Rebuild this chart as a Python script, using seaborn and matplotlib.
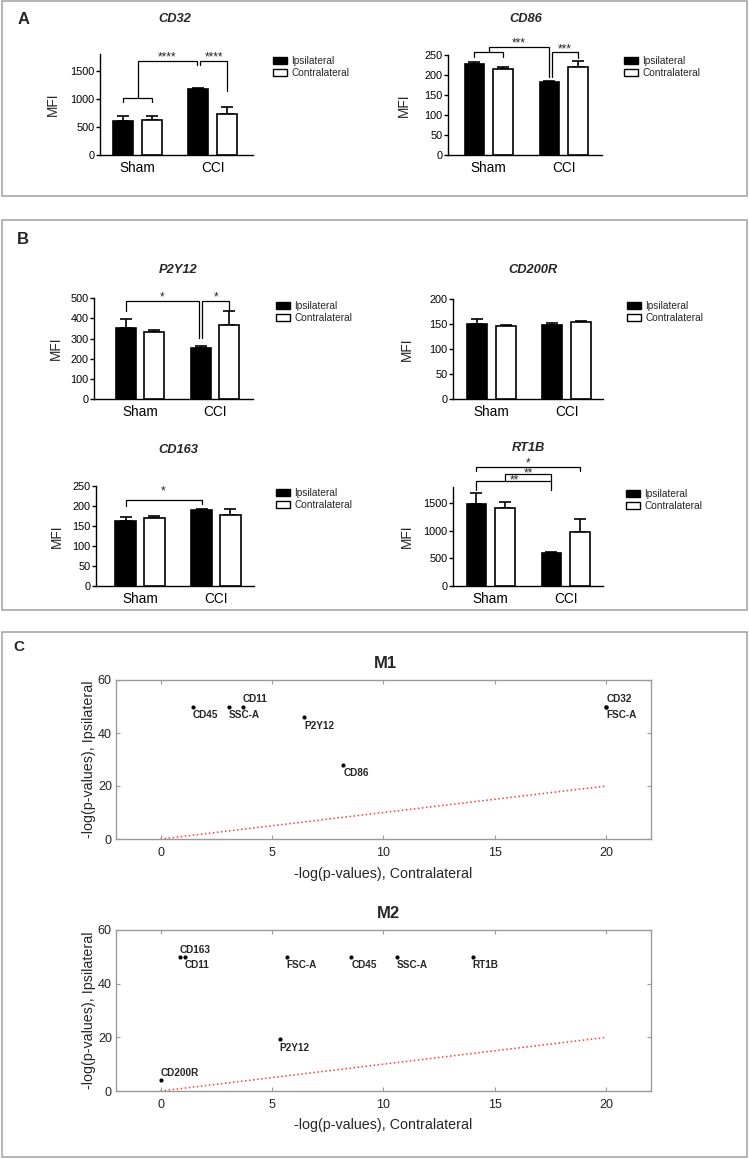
import numpy as np
import pandas as pd
import matplotlib
matplotlib.use("Agg")
import matplotlib.pyplot as plt
from matplotlib.patches import Patch, Rectangle
import seaborn as sns

# ------------------------------------------------------------------ data
groups = ["Sham", "CCI"]
sides = ["Ipsilateral", "Contralateral"]
# each list: Sham-Ipsi, Sham-Contra, CCI-Ipsi, CCI-Contra
cd32_mean = [607, 625, 1175, 740]
cd32_sem = [83, 75, 23, 123]
cd86_mean = [227, 216, 182, 221]
cd86_sem = [5, 4, 2, 13]
p2y12_mean = [352, 332, 255, 367]
p2y12_sem = [44, 10, 9, 69]
cd200r_mean = [149, 146, 147.5, 154]
cd200r_sem = [10, 2, 4.5, 1.5]
cd163_mean = [162.5, 171, 190, 177]
cd163_sem = [10.5, 4, 2, 15]
rt1b_mean = [1480, 1413, 592, 973]
rt1b_sem = [205, 109, 18, 241]

cd32_yticks = [0, 500, 1000, 1500]
cd86_yticks = [0, 50, 100, 150, 200, 250]
p2y12_yticks = [0, 100, 200, 300, 400, 500]
cd200r_yticks = [0, 50, 100, 150, 200]
cd163_yticks = [0, 50, 100, 150, 200, 250]
rt1b_yticks = [0, 500, 1000, 1500]

# significance brackets: (x1, x2, y_top, y_left_end, y_right_end, label, y_label)
cd32_sig = [(-0.19, 0.19, 1023, 952, 952, "", 0),
            (0.0, 0.79, 1679, 1023, 1607, "****", 1750),
            (0.83, 1.19, 1679, 1607, 1143, "****", 1750)]
cd86_sig = [(-0.19, 0.19, 257, 245, 245, "", 0),
            (0.0, 0.81, 269, 257, 196, "***", 279),
            (0.84, 1.19, 257, 196, 242, "***", 265)]
p2y12_sig = [(-0.19, 0.79, 487, 438, 302, "*", 503),
             (0.83, 1.19, 487, 302, 443, "*", 503)]
cd200r_sig = []
cd163_sig = [(-0.19, 0.81, 215, 200, 204, "*", 236)]
rt1b_sig = [(-0.19, 1.19, 2161, 2083, 2083, "*", 2228),
            (0.19, 0.81, 2029, 1907, 1907, "**", 2045),
            (-0.19, 0.81, 1902, 1739, 1739, "**", 1915)]

# panel C
m1_names = ["CD45", "SSC-A", "CD11", "P2Y12", "CD86", "CD32", "FSC-A"]
m1_contra = [1.45, 3.05, 3.7, 6.45, 8.2, 20.0, 20.0]
m1_ipsi = [50, 50, 50, 46, 28, 50, 50]
m1_side = ["below", "below", "above", "below", "below", "above", "below"]

m2_names = ["CD163", "CD11", "FSC-A", "CD45", "SSC-A", "RT1B", "P2Y12", "CD200R"]
m2_contra = [0.85, 1.1, 5.65, 8.55, 10.6, 14.0, 5.35, 0.0]
m2_ipsi = [50, 50, 50, 50, 50, 50, 19.3, 4.1]
m2_side = ["above", "below", "below", "below", "below", "below", "below", "above"]

diag_x = [0, 20]
diag_y = [0, 20]
scatter_xticks = [0, 5, 10, 15, 20]
scatter_yticks = [0, 20, 40, 60]

# ------------------------------------------------------------------ style
sns.set_style("ticks")
plt.rcParams["font.family"] = ["Liberation Sans", "DejaVu Sans"]

W, H = 749, 1159
fig = plt.figure(figsize=(W / 100, H / 100), dpi=100)


def add_ax(l, t, r, b):
    return fig.add_axes([l / W, 1 - b / H, (r - l) / W, (b - t) / H])


def ftext(x, y, s, **kw):
    fig.text(x / W, 1 - y / H, s, **kw)


# panel frames
for (t, b) in [(1, 196), (220, 610), (632, 1157)]:
    fig.add_artist(Rectangle((1.5 / W, 1 - b / H), (746.5 - 1.5) / W, (b - t) / H,
                             transform=fig.transFigure, fill=False,
                             edgecolor="#a0a0a0", linewidth=1.1))

ftext(24, 20, "A", fontsize=12, fontweight="bold", ha="center", va="center")
ftext(23, 239, "B", fontsize=12, fontweight="bold", ha="center", va="center")
ftext(19, 647, "C", fontsize=11, fontweight="bold", ha="center", va="center")


def bar_panel(name, mean, sem, box, xlim, ylim, yticks, sig, title_xy, leg_xy, ylab_x):
    l, t, r, b = box
    ax = add_ax(l, t, r, b)
    df = pd.DataFrame({"group": np.repeat(groups, 2), "side": sides * 2, "MFI": mean})
    sns.barplot(data=df, x="group", y="MFI", hue="side", order=groups, hue_order=sides,
                palette={"Ipsilateral": "black", "Contralateral": "white"},
                saturation=1, edgecolor="black", linewidth=1.2, width=0.76, gap=0.3,
                errorbar=None, legend=False, ax=ax, zorder=3)
    for p in list(ax.patches):
        cx = p.get_x() + p.get_width() / 2
        gi = int(round(cx))
        si = 0 if cx < gi else 1
        e = sem[gi * 2 + si]
        ax.errorbar([cx], [p.get_height()], yerr=[[0], [e]], fmt="none",
                    ecolor="black", elinewidth=1.2, capsize=4.3, capthick=1.2, zorder=2)
    for (x1, x2, yt, y1, y2, lab, ylab) in sig:
        ax.plot([x1, x1, x2, x2], [y1, yt, yt, y2], color="black", lw=0.9,
                clip_on=False, solid_joinstyle="miter")
        if lab:
            ax.text((x1 + x2) / 2, ylab, lab, ha="center", va="center",
                    fontsize=8.5, clip_on=False)
    ax.set_xlim(xlim)
    ax.set_ylim(ylim)
    ax.set_yticks(yticks)
    sns.despine(ax=ax)
    for s in ["left", "bottom"]:
        ax.spines[s].set_linewidth(1.0)
        ax.spines[s].set_color("black")
    ax.tick_params(axis="y", length=3, width=1, labelsize=7.8, pad=1, colors="black")
    ax.tick_params(axis="x", length=0, labelsize=9.8, pad=4, colors="black")
    ax.set_xlabel("")
    ax.set_ylabel("MFI", fontsize=9.8, va="center")
    ax.yaxis.set_label_coords((ylab_x - l) / (r - l), 0.5)
    ftext(title_xy[0], title_xy[1], name, fontsize=9.3, fontweight="bold",
          fontstyle="italic", ha="center", va="center")
    handles = [Patch(facecolor="black", edgecolor="black", linewidth=1),
               Patch(facecolor="white", edgecolor="black", linewidth=1)]
    fig.legend(handles, sides, loc="upper left",
               bbox_to_anchor=(leg_xy[0] / W, 1 - leg_xy[1] / H), frameon=False,
               fontsize=7.3, handlelength=1.35, handleheight=0.8, handletextpad=0.45,
               labelspacing=0.2, borderpad=0, borderaxespad=0)
    return ax


bar_panel("CD32", cd32_mean, cd32_sem, (100, 54.2, 253, 155), (-0.50, 1.535), (0, 1800),
          cd32_yticks, cd32_sig, (175, 19), (273, 56), 53)
bar_panel("CD86", cd86_mean, cd86_sem, (448, 55, 602, 155), (-0.543, 1.51), (0, 250),
          cd86_yticks, cd86_sig, (526, 19), (624, 56), 404)
bar_panel("P2Y12", p2y12_mean, p2y12_sem, (94, 298.3, 253, 399), (-0.613, 1.507), (0, 500),
          p2y12_yticks, p2y12_sig, (178, 270), (276, 301), 56)
bar_panel("CD200R", cd200r_mean, cd200r_sem, (453, 298.7, 603, 399), (-0.507, 1.48), (0, 200),
          cd200r_yticks, cd200r_sig, (533, 270), (627, 301), 407)
bar_panel("CD163", cd163_mean, cd163_sem, (96, 486, 254, 586), (-0.579, 1.5), (0, 250),
          cd163_yticks, cd163_sig, (178, 450), (276, 488), 57)
bar_panel("RT1B", rt1b_mean, rt1b_sem, (453, 486.7, 603, 586), (-0.503, 1.497), (0, 1800),
          rt1b_yticks, rt1b_sig, (528, 448), (626, 489), 407)


def scatter_panel(title, xs, ys, names, side, box, title_xy, xlab_y, ylab_x):
    l, t, r, b = box
    ax = add_ax(l, t, r, b)
    sns.lineplot(x=diag_x, y=diag_y, ax=ax, color="#ff3b3b", linestyle=":", linewidth=1.1)
    df = pd.DataFrame({"contra": xs, "ipsi": ys, "marker": names})
    sns.scatterplot(data=df, x="contra", y="ipsi", ax=ax, color="black", s=9,
                    linewidth=0, zorder=3)
    for x, y, n, sd in zip(xs, ys, names, side):
        if sd == "above":
            ax.annotate(n, (x, y), xytext=(0, 1.5), textcoords="offset points",
                        ha="left", va="bottom", fontsize=7.2, fontweight="bold")
        else:
            ax.annotate(n, (x, y), xytext=(0, -2.5), textcoords="offset points",
                        ha="left", va="top", fontsize=7.2, fontweight="bold")
    ax.set_xlim(-2, 22)
    ax.set_ylim(0, 60)
    ax.set_xticks(scatter_xticks)
    ax.set_yticks(scatter_yticks)
    for s in ax.spines.values():
        s.set_visible(True)
        s.set_color("#9a9a9a")
        s.set_linewidth(1.0)
    ax.tick_params(direction="in", top=True, right=True, length=3, width=0.8,
                   color="#9a9a9a", labelcolor="#222222", labelsize=9)
    ax.tick_params(axis="x", pad=6)
    ax.tick_params(axis="y", pad=3)
    ax.set_xlabel("-log(p-values), Contralateral", fontsize=10.3, va="center")
    ax.xaxis.set_label_coords(0.5, -(xlab_y - b) / (b - t))
    ax.set_ylabel("-log(p-values), Ipsilateral", fontsize=10.3, va="center")
    ax.yaxis.set_label_coords((ylab_x - l) / (r - l), 0.5)
    ftext(title_xy[0], title_xy[1], title, fontsize=12, fontweight="bold",
          ha="center", va="center")
    return ax


scatter_panel("M1", m1_contra, m1_ipsi, m1_names, m1_side, (116, 680, 651, 839),
              (385, 663), 874, 89)
scatter_panel("M2", m2_contra, m2_ipsi, m2_names, m2_side, (116, 930, 651, 1091),
              (388, 913), 1125, 89)

fig.savefig("out.png", dpi=100)
